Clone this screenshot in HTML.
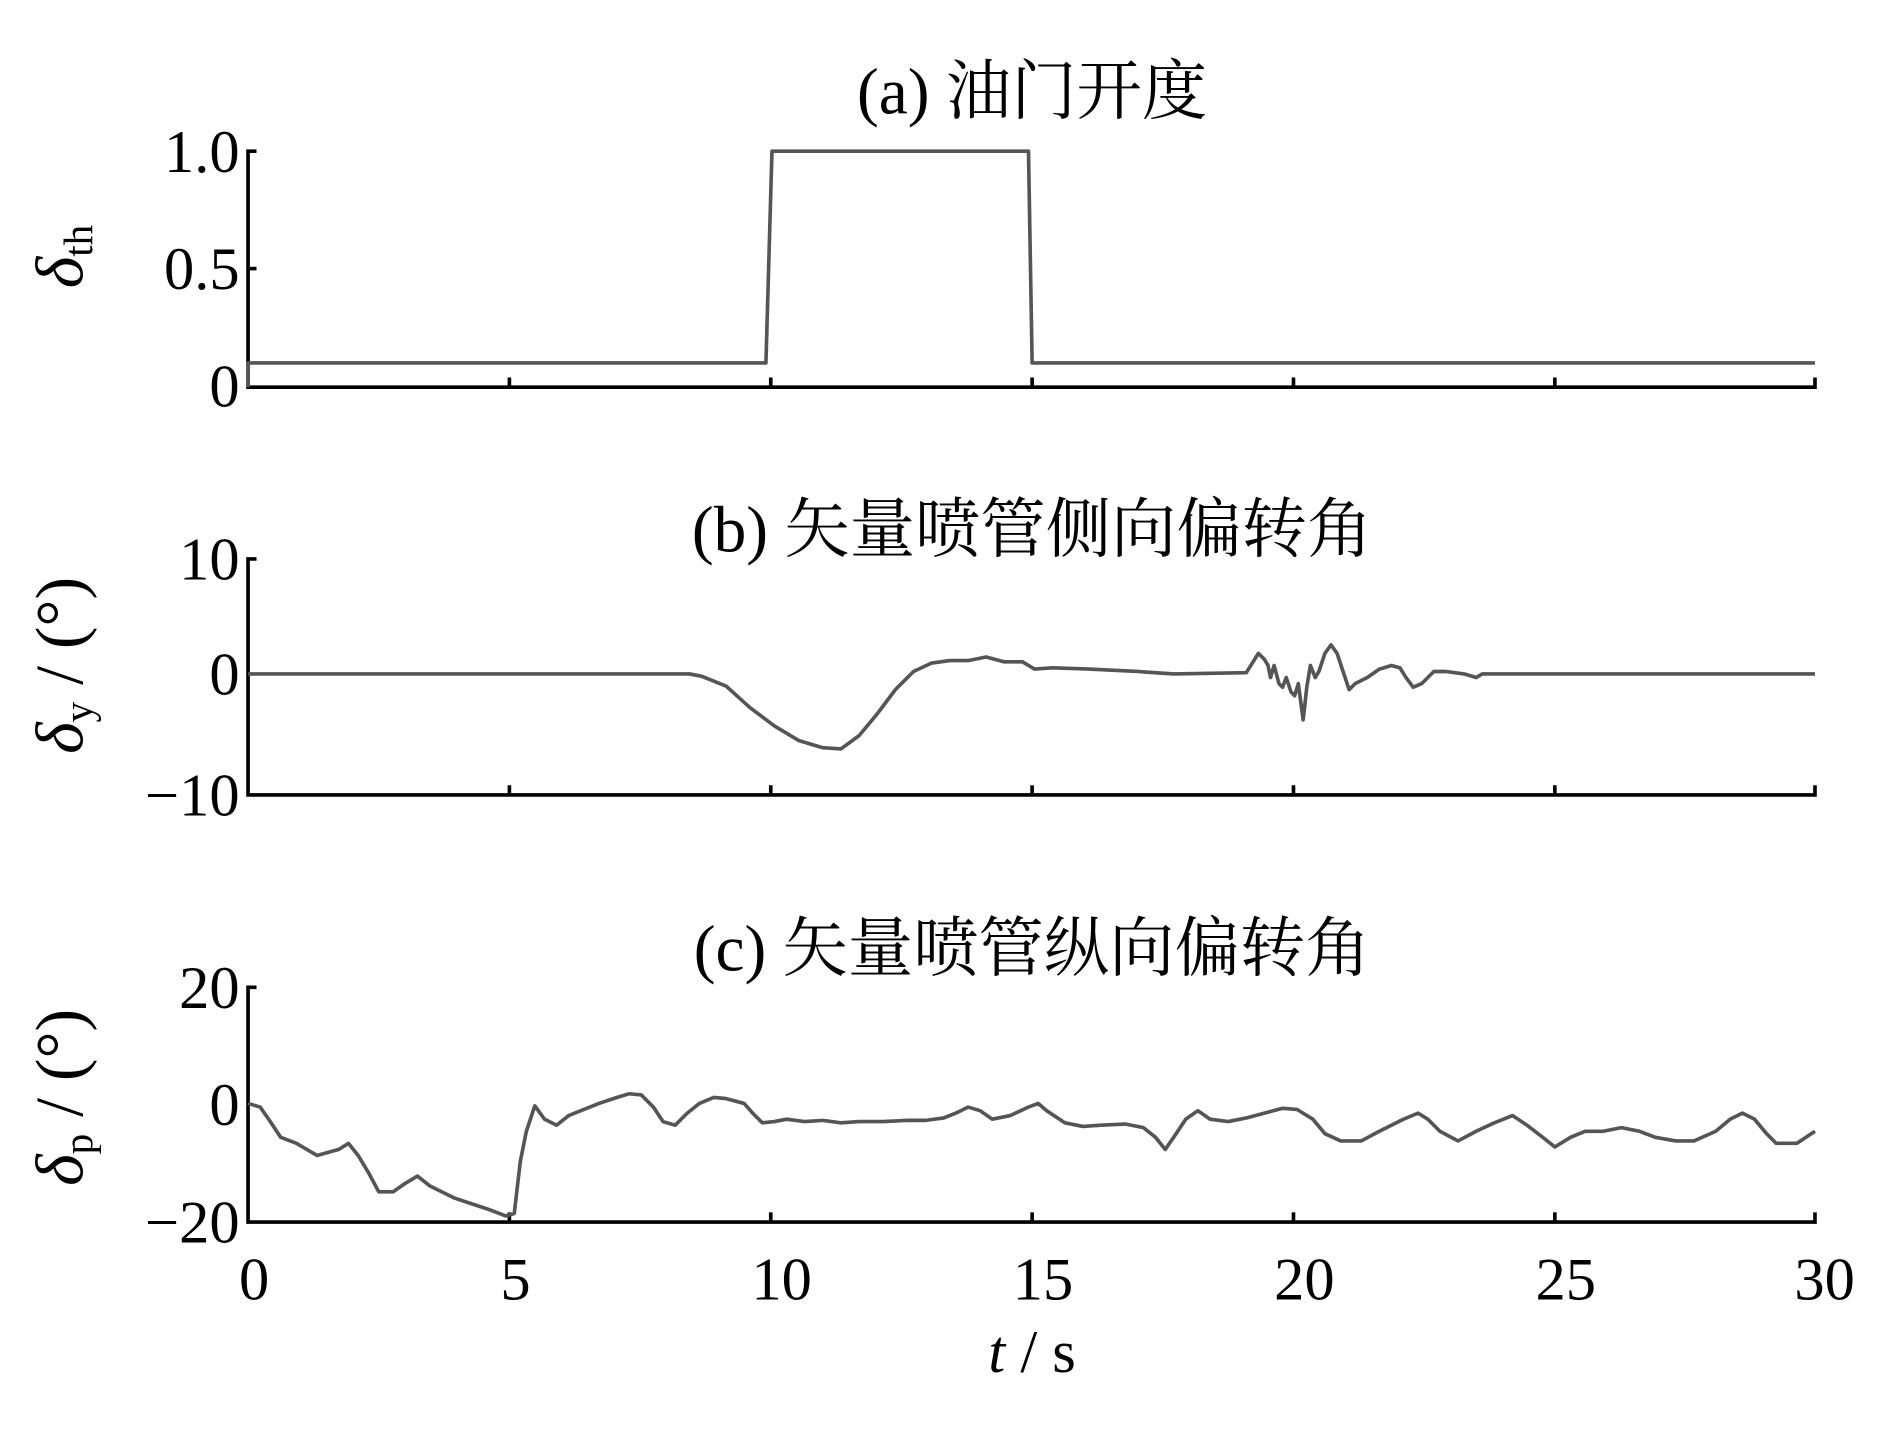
<!DOCTYPE html>
<html><head><meta charset="utf-8"><style>
html,body{margin:0;padding:0;background:#fff;width:1890px;height:1441px;overflow:hidden}
svg{display:block}
text{font-family:"Liberation Serif","Noto Serif CJK SC","Noto Sans CJK SC",serif;fill:#000}
</style></head><body>
<svg width="1890" height="1441" viewBox="0 0 1562 1191" preserveAspectRatio="none" xmlns="http://www.w3.org/2000/svg">
<g fill="none" stroke="#000" stroke-width="3">
<polyline points="212,125 205,125 205,320 1500,320 1500,312"/>
<line x1="205" y1="222" x2="212" y2="222"/>
<line x1="421" y1="320" x2="421" y2="312"/><line x1="637" y1="320" x2="637" y2="312"/><line x1="853" y1="320" x2="853" y2="312"/><line x1="1069" y1="320" x2="1069" y2="312"/><line x1="1285" y1="320" x2="1285" y2="312"/>
<polyline points="212,462 205,462 205,657 1500,657 1500,649"/>
<line x1="421" y1="657" x2="421" y2="649"/><line x1="637" y1="657" x2="637" y2="649"/><line x1="853" y1="657" x2="853" y2="649"/><line x1="1069" y1="657" x2="1069" y2="649"/><line x1="1285" y1="657" x2="1285" y2="649"/>
<polyline points="212,816 205,816 205,1010 1500,1010 1500,1002"/>
<line x1="421" y1="1010" x2="421" y2="1002"/><line x1="637" y1="1010" x2="637" y2="1002"/><line x1="853" y1="1010" x2="853" y2="1002"/><line x1="1069" y1="1010" x2="1069" y2="1002"/><line x1="1285" y1="1010" x2="1285" y2="1002"/>
</g>
<g fill="none" stroke="#555" stroke-width="3" stroke-linejoin="round">
<polyline points="205,320 205,300 633,300 638,125 850,125 853,300 1500,300"/>
<polyline points="205,557 570,557 580,559 600,567 620,585 640,600 660,612 680,618 695,619 710,608 725,590 740,570 755,555 770,548 785,546 800,546 815,543 830,547 845,547 855,553 870,552 900,553 940,555 970,557 1030,556 1040,540 1045,545 1048,550 1050,560 1053,550 1057,565 1060,568 1063,560 1067,572 1070,575 1073,565 1077,595 1080,568 1083,550 1087,560 1090,555 1095,540 1100,533 1105,540 1110,555 1115,570 1120,565 1130,560 1140,553 1150,550 1157,552 1162,560 1168,568 1175,565 1185,555 1195,555 1210,557 1220,560 1225,557 1500,557"/>
<polyline points="205,912 215,915 222,925 232,940 245,945 262,955 280,950 288,945 296,955 305,970 313,985 325,985 335,978 345,972 355,980 365,985 375,990 390,995 405,1000 418,1005 425,1003 430,960 435,935 442,914 450,925 460,930 470,922 480,918 495,912 510,907 520,904 530,905 540,915 548,927 558,930 568,920 578,912 590,907 600,908 615,912 622,920 630,928 640,927 650,925 665,927 680,926 695,928 710,927 730,927 750,926 765,926 780,924 790,920 800,915 810,918 820,925 835,922 850,915 858,912 865,918 880,928 895,931 910,930 930,929 945,932 955,940 963,950 970,940 980,925 990,918 1000,925 1015,927 1030,924 1045,920 1060,916 1072,917 1085,925 1095,937 1108,943 1125,943 1140,935 1160,925 1172,920 1180,925 1190,935 1205,943 1220,935 1235,928 1250,922 1262,930 1275,940 1285,948 1298,940 1310,935 1325,935 1340,932 1355,935 1368,940 1385,943 1400,943 1418,935 1430,925 1440,920 1450,925 1460,937 1468,945 1485,945 1500,935"/>
</g>
<g font-size="50">
<text x="853" y="94" text-anchor="middle" font-size="54">(a) 油门开度</text>
<text x="853" y="456" text-anchor="middle" font-size="54">(b) 矢量喷管侧向偏转角</text>
<text x="853" y="802" text-anchor="middle" font-size="54">(c) 矢量喷管纵向偏转角</text>
<g text-anchor="end">
<text x="198" y="142">1.0</text>
<text x="198" y="239">0.5</text>
<text x="198" y="336">0</text>
<text x="198" y="479">10</text>
<text x="198" y="574">0</text>
<text x="198" y="674">−10</text>
<text x="198" y="833">20</text>
<text x="198" y="930">0</text>
<text x="198" y="1027">−20</text>
</g>
<g text-anchor="middle">
<text x="210" y="1074">0</text><text x="426" y="1074">5</text><text x="646" y="1074">10</text><text x="862" y="1074">15</text><text x="1078" y="1074">20</text><text x="1294" y="1074">25</text><text x="1508" y="1074">30</text>
<text x="853" y="1134"><tspan font-style="italic">t</tspan> / s</text>
</g>
<text transform="translate(68,212) rotate(-90)" text-anchor="middle" font-size="56"><tspan font-style="italic">δ</tspan><tspan font-size="34" dy="8">th</tspan></text>
<text transform="translate(68,550) rotate(-90)" text-anchor="middle" font-size="56"><tspan font-style="italic">δ</tspan><tspan font-size="34" dy="8">y</tspan><tspan dy="-8"> / (°)</tspan></text>
<text transform="translate(68,907) rotate(-90)" text-anchor="middle" font-size="56"><tspan font-style="italic">δ</tspan><tspan font-size="34" dy="8">p</tspan><tspan dy="-8"> / (°)</tspan></text>
</g>
</svg>
</body></html>
